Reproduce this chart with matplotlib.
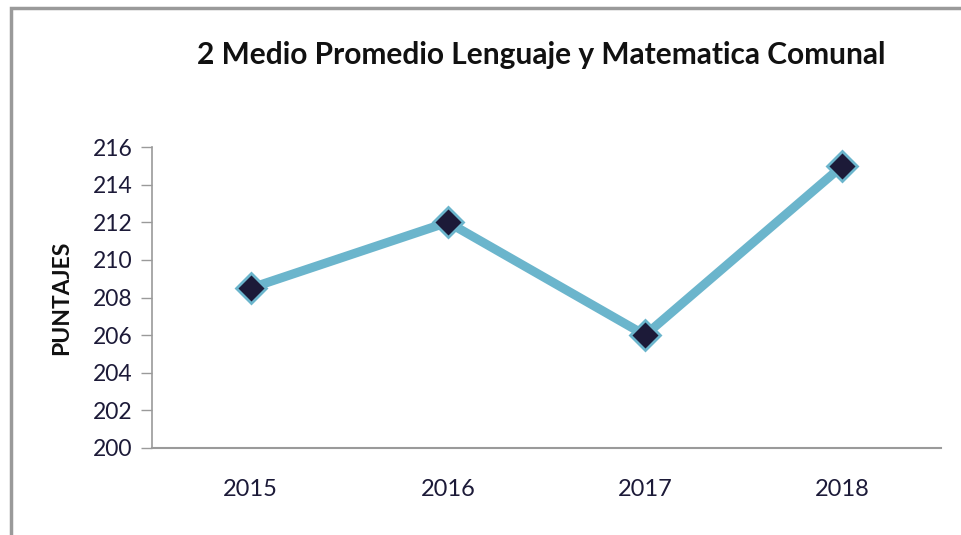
import matplotlib
matplotlib.use("Agg")
import matplotlib.pyplot as plt
from matplotlib.patches import Rectangle

# datos
anios = ["2015", "2016", "2017", "2018"]
puntajes = [208.5, 212, 206, 215]
yticks = [200, 202, 204, 206, 208, 210, 212, 214, 216]

plt.rcParams['font.family'] = ['Lato', 'DejaVu Sans']

fig = plt.figure(figsize=(9.61, 5.35), dpi=100)
ax = fig.add_axes([152 / 961, 1 - 448 / 535, (941 - 152) / 961, (448 - 147) / 535])

# marco exterior
fig.patches.append(Rectangle((11 / 961, -0.05), 1.2, 1 - 8 / 535 + 0.05,
                             transform=fig.transFigure, fill=False,
                             edgecolor='#9a9a9a', linewidth=2.5))

x = range(len(anios))
ax.plot(x, puntajes, color='#6bb5cc', linewidth=6.5, solid_capstyle='round', zorder=2)
ax.plot(x, puntajes, linestyle='none', marker='D', markersize=15,
        markerfacecolor='#1c1a38', markeredgecolor='#6bb5cc', markeredgewidth=2, zorder=3)

ax.set_xlim(-0.5, 3.5)
ax.set_ylim(200, 216)
ax.set_xticks(list(x))
ax.set_xticklabels(anios)
ax.set_yticks(yticks)
ax.tick_params(axis='x', length=0, pad=22, labelsize=17, labelcolor='#1c1a38')
ax.tick_params(axis='y', length=8, width=1, color='#9a9a9a', pad=6, labelsize=16.5, labelcolor='#1c1a38')

for s in ['top', 'right']:
    ax.spines[s].set_visible(False)
ax.spines['left'].set_color('#9a9a9a')
ax.spines['bottom'].set_color('#9a9a9a')
ax.spines['left'].set_linewidth(1.2)
ax.spines['bottom'].set_linewidth(1.5)
ax.spines['bottom'].set_bounds(-0.5, 3.5)

fig.text(541 / 961, 1 - 55 / 535, "2 Medio Promedio Lenguaje y Matematica Comunal",
         ha='center', va='center', fontsize=21.5, fontweight='bold', color='#111111')
fig.text(62 / 961, 1 - 298 / 535, "PUNTAJES", rotation=90, ha='center', va='center',
         fontsize=16.5, fontweight='bold', color='#111111')

fig.savefig("out.png", dpi=100)
